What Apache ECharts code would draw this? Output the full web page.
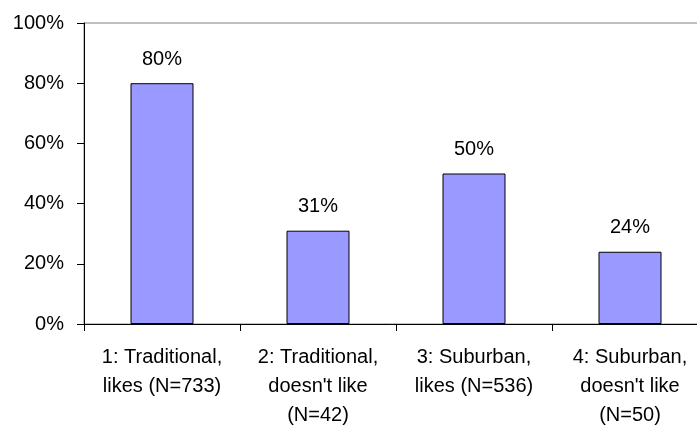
<!DOCTYPE html>
<html>
<head>
<meta charset="utf-8">
<script src="https://cdn.jsdelivr.net/npm/echarts@6/dist/echarts.min.js"></script>
<style>
  html, body { margin: 0; padding: 0; background: #fff; }
  #chart { width: 697px; height: 425px; }
</style>
</head>
<body>
<div id="chart"></div>
<script>
// Share of respondents per group (percent)
const categories = [
  "1: Traditional,\nlikes (N=733)",
  "2: Traditional,\ndoesn't like\n(N=42)",
  "3: Suburban,\nlikes (N=536)",
  "4: Suburban,\ndoesn't like\n(N=50)"
];
const values = [80, 31, 50, 24];
const yTicks = { min: 0, max: 100, step: 20 };

const FONT = "'Liberation Sans', Arial, sans-serif";
const chart = echarts.init(document.getElementById('chart'), null, { renderer: 'canvas' });

chart.setOption({
  animation: false,
  backgroundColor: '#ffffff',
  grid: {
    left: 84, top: 23, width: 624, height: 301,
    containLabel: false, outerBoundsMode: 'none',
    show: true, borderColor: '#808080', borderWidth: 1, backgroundColor: 'transparent'
  },
  xAxis: {
    type: 'category',
    data: categories,
    boundaryGap: true,
    axisLine: { lineStyle: { color: '#000', width: 1 } },
    axisTick: { show: true, inside: false, length: 7, alignWithLabel: false, lineStyle: { color: '#000' } },
    axisLabel: {
      interval: 0, hideOverlap: false, margin: 19,
      color: '#000', fontFamily: FONT, fontSize: 20, lineHeight: 29, align: 'center'
    },
    splitLine: { show: false }
  },
  yAxis: {
    type: 'value',
    min: yTicks.min, max: yTicks.max, interval: yTicks.step,
    axisLine: { show: true, lineStyle: { color: '#000', width: 1 } },
    axisTick: { show: true, inside: false, length: 7, lineStyle: { color: '#000' } },
    axisLabel: { formatter: '{value}%', margin: 20, color: '#000', fontFamily: FONT, fontSize: 20 },
    splitLine: { show: false }
  },
  series: [{
    type: 'bar',
    data: values,
    barWidth: 63,
    itemStyle: { color: '#9999FF', borderColor: '#000', borderWidth: 1 },
    label: {
      show: true, position: 'top', distance: 14,
      formatter: '{c}%', color: '#000', fontFamily: FONT, fontSize: 20
    }
  }]
});
</script>
</body>
</html>
